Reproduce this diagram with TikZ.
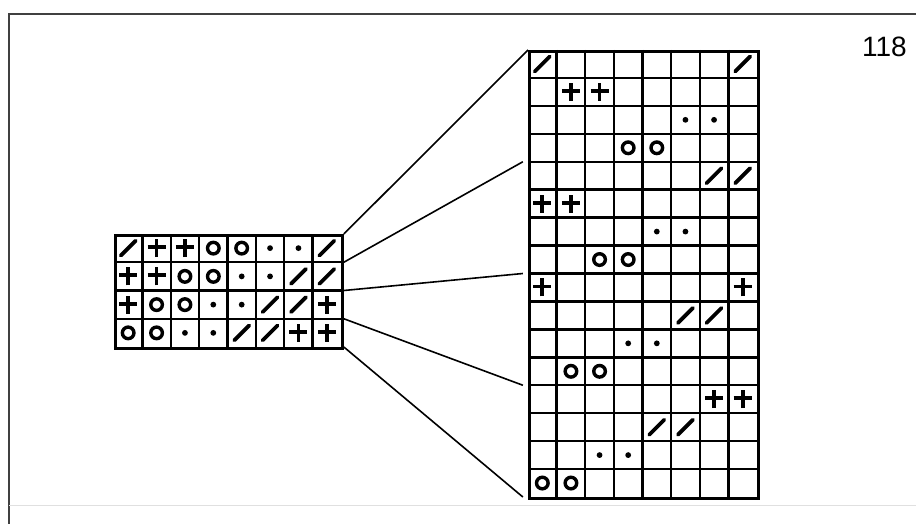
\documentclass[tikz,border=0pt]{standalone}
\usepackage{fontspec}
\setmainfont{Liberation Sans}
\begin{document}
\begin{tikzpicture}[x=1pt,y=-1pt,
  frame/.style={line width=1.6pt, draw=black!75},
  gridline/.style={line width=2.4pt},
  outline/.style={draw, line width=2.8pt, inner sep=0pt, anchor=north west},
  conn/.style={line width=1.6pt},
  slashsym/.style={line width=3.8pt, line cap=round},
  plussym/.style={line width=3.8pt},
  ringsym/.style={line width=3.4pt},
  label/.style={font=\fontsize{28}{28}\selectfont, anchor=base east, inner sep=0pt}]
\useasboundingbox (0,0) rectangle (916,524);
% frame
\draw[frame] (9,524) -- (9,14) -- (916,14);
\draw[line width=1pt, draw=black!12] (9,505) -- (916,505);
% page number
\node[label] (num) at (907,57) {118};
% grid outlines
\node[outline, minimum width=227pt, minimum height=113pt] (small) at (114,234) {};
\node[outline, minimum width=229pt, minimum height=447pt] (big) at (528,50) {};
% small grid
\begin{scope}[shift={(114,234)}, x=28.375pt, y=-28.25pt]
  \foreach \i in {1,...,7} \draw[gridline] (\i,0) -- (\i,4);
  \foreach \j in {1,...,3} \draw[gridline] (0,\j) -- (8,\j);
  \foreach \c/\r in {1/1,8/1,7/2,8/2,6/3,7/3,5/4,6/4}
    \draw[slashsym] (\c-0.5,\r-0.5) ++(-7.5pt,-7.5pt) -- ++(15pt,15pt);
  \foreach \c/\r in {2/1,3/1,1/2,2/2,1/3,8/3,7/4,8/4}
    {\draw[plussym] (\c-0.5,\r-0.5) ++(-9pt,1pt) -- ++(18pt,0pt);
     \draw[plussym] (\c-0.5,\r-0.5) ++(0pt,-9pt) -- ++(0pt,18pt);}
  \foreach \c/\r in {4/1,5/1,3/2,4/2,2/3,3/3,1/4,2/4}
    \draw[ringsym] (\c-0.5,\r-0.5) circle[radius=5.8pt];
  \foreach \c/\r in {6/1,7/1,5/2,6/2,4/3,5/3,3/4,4/4}
    \fill (\c-0.5,\r-0.5) circle[radius=2.9pt];
  \foreach \k in {0,...,4} \coordinate (s\k) at (8.1,\k);
\end{scope}
% big grid
\begin{scope}[shift={(528,50)}, x=28.625pt, y=-27.9375pt]
  \foreach \i in {1,...,7} \draw[gridline] (\i,0) -- (\i,16);
  \foreach \j in {1,...,15} \draw[gridline] (0,\j) -- (8,\j);
  \foreach \c/\r in {1/1,8/1,7/5,8/5,6/10,7/10,5/14,6/14}
    \draw[slashsym] (\c-0.5,\r-0.5) ++(-7.5pt,-7.5pt) -- ++(15pt,15pt);
  \foreach \c/\r in {2/2,3/2,1/6,2/6,1/9,8/9,7/13,8/13}
    {\draw[plussym] (\c-0.5,\r-0.5) ++(-9pt,1pt) -- ++(18pt,0pt);
     \draw[plussym] (\c-0.5,\r-0.5) ++(0pt,-9pt) -- ++(0pt,18pt);}
  \foreach \c/\r in {4/4,5/4,3/8,4/8,2/12,3/12,1/16,2/16}
    \draw[ringsym] (\c-0.5,\r-0.5) circle[radius=5.8pt];
  \foreach \c/\r in {6/3,7/3,5/7,6/7,4/11,5/11,3/15,4/15}
    \fill (\c-0.5,\r-0.5) circle[radius=2.9pt];
  \foreach \k in {0,...,4} \coordinate (b\k) at (-0.18,4*\k);
\end{scope}
\coordinate (b0) at (big.north west);
% connectors
\foreach \k in {0,...,4} \draw[conn] (s\k) -- (b\k);
\end{tikzpicture}
\end{document}
